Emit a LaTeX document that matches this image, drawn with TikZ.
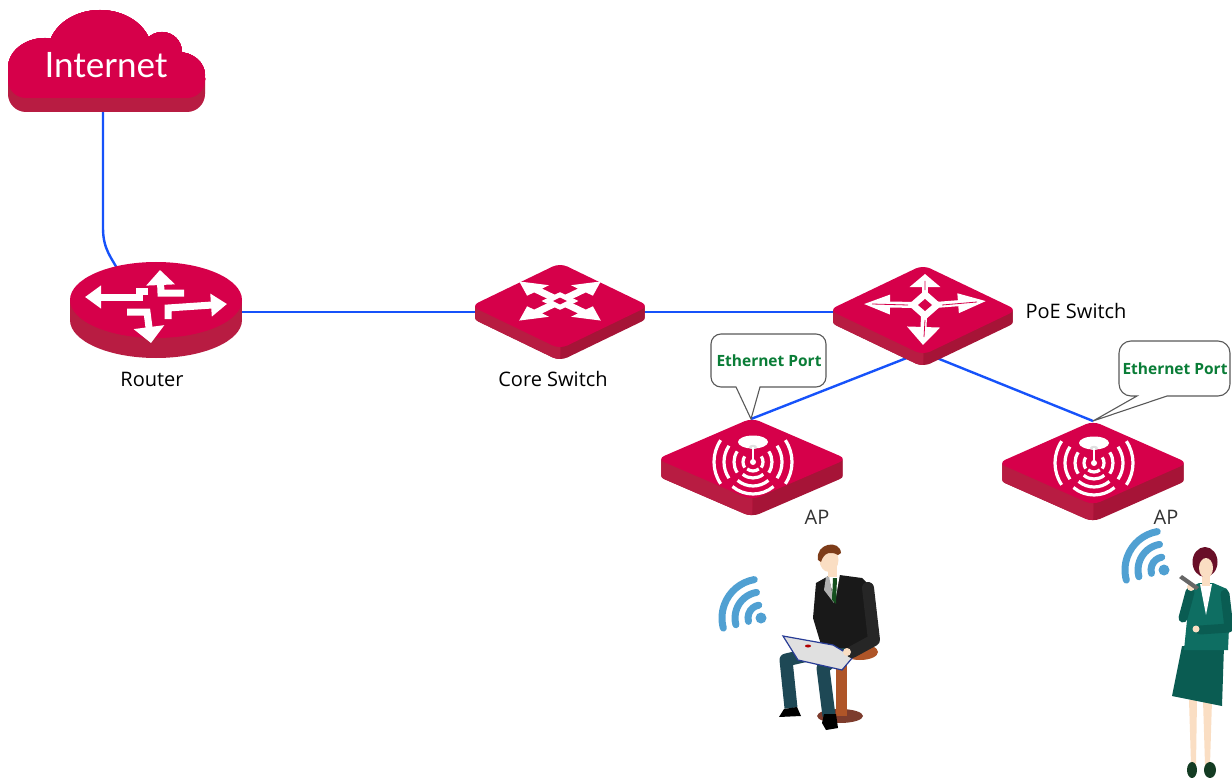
\documentclass[tikz,border=0pt]{standalone}
\usepackage{fontspec}
\setmainfont{Open Sans}
\newfontfamily\inetfont{Lato}
\usetikzlibrary{arrows.meta}

\definecolor{devtop}{RGB}{214,0,74}
\definecolor{devleft}{RGB}{184,28,66}
\definecolor{devright}{RGB}{166,20,55}
\definecolor{linkblue}{RGB}{22,82,250}
\definecolor{portgreen}{RGB}{10,125,55}
\definecolor{wifiblue}{RGB}{80,160,210}
\definecolor{skin}{RGB}{250,222,195}
\definecolor{manhair}{RGB}{125,60,25}
\definecolor{ladyhair}{RGB}{105,15,40}
\definecolor{suitgreen}{RGB}{14,110,98}
\definecolor{suitdark}{RGB}{10,92,82}
\definecolor{shoegreen}{RGB}{20,60,35}
\definecolor{pants}{RGB}{30,72,85}
\definecolor{stool}{RGB}{175,85,40}
\definecolor{stooldark}{RGB}{125,60,45}
\definecolor{tie}{RGB}{20,80,30}
\definecolor{lidblue}{RGB}{40,60,150}

% isometric device block: centre x, centre y, half width, half height, depth
\newcommand{\devtile}[5]{%
  \foreach \k in {1,...,#5}
    \fill[devright,rounded corners=8] (#1-#3,#2+\k) -- (#1,#2-#4+\k) -- (#1+#3,#2+\k) -- (#1,#2+#4+\k) -- cycle;
  \begin{scope}
    \clip (#1-#3-5,#2) rectangle (#1,#2+#4+#5+5);
    \foreach \k in {1,...,#5}
      \fill[devleft,rounded corners=8] (#1-#3,#2+\k) -- (#1,#2-#4+\k) -- (#1+#3,#2+\k) -- (#1,#2+#4+\k) -- cycle;
  \end{scope}
  \fill[devtop,rounded corners=8] (#1-#3,#2) -- (#1,#2-#4) -- (#1+#3,#2) -- (#1,#2+#4) -- cycle;
}

% radio waves on an access point, around a named coordinate
\newcommand{\apicon}[1]{%
  \fill[white] ([shift={(0,-20)}]#1) ellipse [x radius=15,y radius=6.5];
  \fill[black!12] ([shift={(0,-15)}]#1) ellipse [x radius=4,y radius=2.2];
  \draw[white,line width=1.4] ([shift={(0,-15)}]#1) -- (#1);
  \fill[white] (#1) circle (3);
  \foreach \rad in {10,19,29,39} {
    \draw[apwave] ([shift={(146:\rad)}]#1) arc[start angle=146,end angle=214,radius=\rad];
    \draw[apwave] ([shift={(-34:\rad)}]#1) arc[start angle=-34,end angle=34,radius=\rad];
  }
  \foreach \rad in {9,16,24,32}
    \draw[apwave] ([shift={(50:\rad)}]#1) arc[start angle=50,end angle=130,radius=\rad];
}

% cloud outline, shifted down by #1
\newcommand{\cloudfill}[2]{%
  \begin{scope}[shift={(0,#1)}]
    \fill[#2,rounded corners=18] (8,60) rectangle (205,98);
    \fill[#2] (45,68) ellipse [x radius=37,y radius=30];
    \fill[#2] (100,52) ellipse [x radius=52,y radius=42];
    \fill[#2] (162,52) circle (20);
    \fill[#2] (178,75) ellipse [x radius=27,y radius=23];
  \end{scope}}

\begin{document}
\begin{tikzpicture}[x=1pt,y=-1pt,
  link/.style={draw=linkblue,line width=2.4},
  lbl/.style={font=\fontsize{20}{24}\selectfont,text=black},
  bubble/.style={draw=gray!70!black,fill=white,line width=1.1},
  porttxt/.style={font=\bfseries\fontsize{15.5}{18}\selectfont,text=portgreen},
  rarrow/.style={draw=white,line width=7,-{Triangle[width=22pt,length=16pt]}},
  parrow/.style={draw=white,line width=6},
  apwave/.style={draw=white,line width=3.2},
  wave/.style={draw=wifiblue,line width=7,line cap=round}]
\useasboundingbox (0,0) rectangle (1232,778);

% cable ends
\coordinate (inet-s) at (103,104);
\coordinate (rtr-n) at (119,272);
\coordinate (rtr-e) at (210,312);
\coordinate (core-w) at (500,312);
\coordinate (core-e) at (620,312);
\coordinate (poe-w) at (860,312);
\coordinate (poe-s) at (922,352);
\coordinate (ap1-n) at (751,419);
\coordinate (ap2-n) at (1093,421);

\draw[link] (inet-s) -- ++(0,124) .. controls +(0,22) and +(-7,-14) .. (rtr-n);
\draw[link] (rtr-e) -- (core-w);
\draw[link] (core-e) -- (poe-w);
\draw[link] (poe-s) -- (ap1-n);
\draw[link] (poe-s) -- (ap2-n);

% internet cloud
\foreach \k in {14,12,...,2} \cloudfill{\k}{devleft}
\cloudfill{0}{devtop}
\node[font=\inetfont\fontsize{35}{40}\selectfont,text=white] (inet) at (106,65) {Internet};

% router
\fill[devleft] (70,300) rectangle (242,320);
\fill[devleft] (156,320) ellipse [x radius=86,y radius=38];
\fill[devtop] (156,300) ellipse [x radius=86,y radius=38];
\draw[rarrow] (148,291) -- (139,291) -- (139,297) -- (85,297);
\draw[rarrow,-{Triangle[width=28pt,length=15pt]}] (184,293) -- (161,293) -- (160,270);
\draw[rarrow] (168,319) -- (168,308) -- (227,304);
\draw[rarrow,-{Triangle[width=30pt,length=16pt]}] (127,312) -- (147,312) -- (151,343);

% core switch
\devtile{560}{306}{89}{43}{12}
\begin{scope}[shift={(560,301)},yscale=0.48,rotate=45,scale=62]
  \foreach \a in {0,90,180,270}
    \fill[white,rotate=\a] (0.12,-0.09) -- (0.5,-0.09) -- (0.5,-0.25) -- (0.93,0) -- (0.5,0.25) -- (0.5,0.09) -- (0.12,0.09) -- cycle;
  \fill[white] (-0.21,-0.21) rectangle (0.21,0.21);
  \fill[devtop] (-0.08,-0.08) rectangle (0.08,0.08);
\end{scope}

% poe switch
\devtile{923}{310}{94}{45}{12}
\draw[parrow,-{Triangle[width=30pt,length=13pt]}] (925,296) -- (925,274);
\draw[parrow,-{Triangle[width=32pt,length=18pt]}] (924,314) -- (923,345);
\draw[parrow,-{Triangle[width=18pt,length=27pt]}] (915,305) -- (863,304);
\draw[parrow,-{Triangle[width=18pt,length=29pt]}] (935,305) -- (987,301);
\fill[white] (925,290) -- (942,305) -- (925,320) -- (908,305) -- cycle;
\fill[devtop] (925,299) -- (932,305) -- (925,311) -- (918,305) -- cycle;
\draw[devtop,line width=0.8] (925,290) -- (925,281) (925,320) -- (924,337) (908,305) -- (872,304) (942,305) -- (977,302);

% access points
\devtile{752}{459}{95}{41}{17}
\coordinate (ap1-c) at (753,462);
\apicon{ap1-c}
\devtile{1093}{463}{95}{42}{17}
\coordinate (ap2-c) at (1094,463);
\apicon{ap2-c}

\node[lbl] (rtr-lbl) at (152,379) {Router};
\node[lbl] (core-lbl) at (553,379) {Core Switch};
\node[lbl,anchor=west] (poe-lbl) at (1022,311) {PoE Switch};
\node[lbl,text=black!80] (ap1-lbl) at (817,517) {AP};
\node[lbl,text=black!80] (ap2-lbl) at (1166,517) {AP};

% port callouts
\draw[bubble] (ap1-n) -- (760,387) [rounded corners=10] -- (826,387) -- (826,334) -- (711,334) -- (711,387) [sharp corners] -- (736,387) -- cycle;
\node[porttxt] (port1) at (769,361) {Ethernet Port};
\draw[bubble] (ap2-n) -- (1167,396) [rounded corners=12] -- (1230,396) -- (1230,341) -- (1119,341) -- (1119,396) [sharp corners] -- (1137,396) -- cycle;
\node[porttxt] (port2) at (1175,369) {Ethernet Port};

% wifi signs
\coordinate (wifi1) at (761,618);
\coordinate (wifi2) at (1164,570);
\foreach \w in {wifi1,wifi2} {
  \fill[wifiblue] (\w) circle (5.5);
  \foreach \rad in {13,26,39}
    \draw[wave] ([shift={(-100:\rad)}]\w) arc[start angle=-100,end angle=-195,radius=\rad];
}

% man on a stool
\fill[stooldark] (840,716) ellipse [x radius=23,y radius=7];
\fill[stool] (836,655) rectangle (847,716);
\fill[stool] (860,652) ellipse [x radius=18,y radius=8];
\draw[pants,line width=13,line join=round] (845,648) -- (823,668) -- (829,716);
\draw[pants,line width=13,line join=round] (838,648) -- (786,660) -- (791,708);
\fill[black] (779,717) -- (784,709) -- (797,707) -- (801,716) -- cycle;
\fill[black] (822,723) -- (824,714) -- (836,714) -- (838,728) -- (826,730) -- cycle;
\fill[black!90] (816,583) -- (832,574) -- (862,578) -- (872,588) -- (877,640) -- (860,648) -- (822,648) -- (813,618) -- cycle;
\fill[white] (828,575) -- (840,574) -- (835,602) -- cycle;
\fill[gray!60] (826,577) -- (829,576) -- (834,603) -- (824,590) -- cycle;
\fill[tie] (833,578) -- (837,578) -- (836,604) -- (832,600) -- cycle;
\fill[skin] (828,566) rectangle (837,577);
\fill[skin] (829,560) ellipse [x radius=9.5,y radius=12];
\fill[manhair] (818,560) .. controls (815,543) and (840,539) .. (841,553) -- (838,555) .. controls (831,551) and (824,552) .. (821,562) -- cycle;
\fill[black!12] (783,636) -- (833,645) -- (853,657) -- (842,670) -- (798,660) -- cycle;
\draw[lidblue,line width=1.2] (783,636) -- (833,645) -- (853,657) -- (842,670) -- (798,660) -- cycle;
\fill[red!70!black] (808,646) ellipse [x radius=3,y radius=1.5];
\draw[black!85,line width=12,line cap=round,line join=round] (868,588) -- (874,640) -- (852,652);
\fill[skin] (847,652) circle (4);

% woman on the phone
\fill[skin] (1189,700) -- (1197,700) -- (1196,765) -- (1191,765) -- cycle;
\fill[skin] (1203,700) -- (1212,700) -- (1210,765) -- (1205,765) -- cycle;
\fill[shoegreen] (1192,770) ellipse [x radius=5,y radius=8];
\fill[shoegreen] (1210,770) ellipse [x radius=6,y radius=8];
\fill[suitdark] (1182,646) -- (1224,646) -- (1222,706) -- (1172,696) -- cycle;
\fill[suitgreen] (1186,590) -- (1199,583) -- (1213,583) -- (1227,589) -- (1230,605) -- (1228,650) -- (1184,650) -- (1187,620) -- cycle;
\fill[white] (1200,584) -- (1212,584) -- (1206,615) -- cycle;
\draw[suitdark,line width=9,line cap=round,line join=round] (1225,594) -- (1229,628) -- (1200,630);
\fill[skin] (1196,629) circle (3.5);
\draw[suitdark,line width=9,line cap=round,line join=round] (1189,596) -- (1183,618) -- (1190,592);
\fill[skin] (1191,587) circle (4);
\fill[black!60] (1179,578) -- (1182,575) -- (1199,587) -- (1196,590) -- cycle;
\fill[skin] (1202,574) rectangle (1210,586);
\fill[ladyhair] (1205,562) ellipse [x radius=12.5,y radius=15];
\fill[skin] (1206,568) ellipse [x radius=7,y radius=10];
\end{tikzpicture}
\end{document}
